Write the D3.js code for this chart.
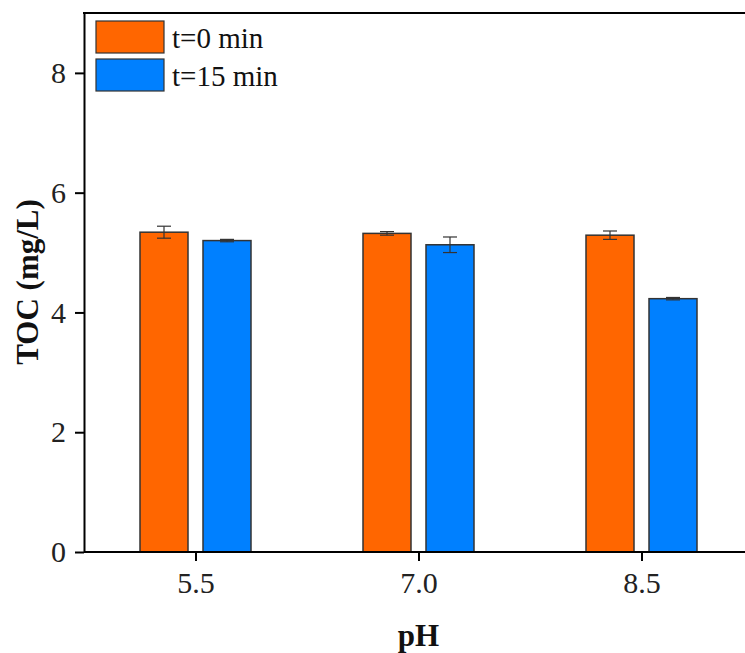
<!DOCTYPE html>
<html>
<head>
<meta charset="utf-8">
<script src="https://cdn.jsdelivr.net/npm/d3@7"></script>
<style>
  html, body { margin: 0; padding: 0; background: #fff; }
  svg { display: block; }
</style>
</head>
<body>
<svg id="chart" width="745" height="653"></svg>
<script>
// TOC measured at each pH, before and after 15 min treatment
const phLevels = ["5.5", "7.0", "8.5"];
const seriesNames = ["t=0 min", "t=15 min"];
const seriesColors = ["#FF6600", "#0080FF"];
const tocStart = [5.34, 5.32, 5.29];
const tocStartErr = [0.10, 0.03, 0.07];
const tocEnd = [5.20, 5.13, 4.23];
const tocEndErr = [0.02, 0.13, 0.02];
const yTicks = [0, 2, 4, 6, 8];

const FONT = "Liberation Serif";
const svg = d3.select("#chart");
const margin = { left: 84, top: 13, bottom: 552 };
const step = 223;

const x = d3.scalePoint()
  .domain(phLevels)
  .range([margin.left + step / 2, margin.left + step / 2 + step * (phLevels.length - 1)]);

const y = d3.scaleLinear().domain([0, 9]).range([margin.bottom, margin.top]);

const barW = 48;
const offsets = [-31.5, 31.5];
const values = [tocStart, tocEnd];
const errors = [tocStartErr, tocEndErr];

const rows = [];
seriesNames.forEach((s, si) => {
  phLevels.forEach((p, i) => {
    rows.push({ p, si, v: values[si][i], e: errors[si][i] });
  });
});

// bars
svg.append("g").selectAll("rect").data(rows).join("rect")
  .attr("x", d => x(d.p) + offsets[d.si] - barW / 2)
  .attr("y", d => y(d.v))
  .attr("width", barW)
  .attr("height", d => y(0) - y(d.v))
  .attr("fill", d => seriesColors[d.si])
  .attr("stroke", "#333")
  .attr("stroke-width", 1.5);

// error bars
const eg = svg.append("g").attr("stroke", "#333").attr("stroke-width", 1.2);
rows.forEach(d => {
  const cx = x(d.p) + offsets[d.si];
  const capW = 7;
  eg.append("line").attr("x1", cx).attr("x2", cx).attr("y1", y(d.v + d.e)).attr("y2", y(d.v - d.e));
  eg.append("line").attr("x1", cx - capW).attr("x2", cx + capW).attr("y1", y(d.v + d.e)).attr("y2", y(d.v + d.e));
  eg.append("line").attr("x1", cx - capW).attr("x2", cx + capW).attr("y1", y(d.v - d.e)).attr("y2", y(d.v - d.e));
});

// axes
const yAxis = d3.axisLeft(y).tickValues(yTicks).tickSize(9).tickPadding(9).tickSizeOuter(0).tickFormat(d3.format("d"));
const yg = svg.append("g").attr("transform", `translate(${margin.left},0)`).call(yAxis);
yg.select(".domain").attr("stroke", "#000").attr("stroke-width", 2);
yg.selectAll(".tick line").attr("stroke", "#000").attr("stroke-width", 2);
yg.selectAll(".tick text").style("font-family", FONT).style("font-size", "30px").attr("fill", "#222");

const xAxis = d3.axisBottom(x).tickSize(9).tickSizeOuter(0);
const xg = svg.append("g").attr("transform", `translate(0,${margin.bottom})`).call(xAxis);
xg.select(".domain").attr("d", `M${margin.left},0H745`).attr("stroke", "#000").attr("stroke-width", 2);
xg.selectAll(".tick line").attr("stroke", "#000").attr("stroke-width", 2);
xg.selectAll(".tick text").style("font-family", FONT).style("font-size", "30px").attr("fill", "#222")
  .attr("y", 41).attr("dy", null);

// top frame line
svg.append("line").attr("x1", margin.left - 1).attr("x2", 745)
  .attr("y1", margin.top).attr("y2", margin.top)
  .attr("stroke", "#000").attr("stroke-width", 2);

// axis titles
svg.append("text").attr("x", x("7.0")).attr("y", 646).attr("text-anchor", "middle")
  .style("font-family", FONT).style("font-size", "31px").style("font-weight", "bold").attr("fill", "#111").text("pH");
svg.append("text").attr("transform", `translate(38,282) rotate(-90)`).attr("text-anchor", "middle")
  .style("font-family", FONT).style("font-size", "31px").style("font-weight", "bold").attr("fill", "#111").text("TOC (mg/L)");

// legend
const lg = svg.append("g").attr("transform", "translate(96,21)");
seriesNames.forEach((s, i) => {
  lg.append("rect").attr("x", 0).attr("y", i * 38).attr("width", 68).attr("height", 32)
    .attr("fill", seriesColors[i]).attr("stroke", "#333").attr("stroke-width", 1.2);
  lg.append("text").attr("x", 76).attr("y", i * 38 + 27)
    .style("font-family", FONT).style("font-size", "29px").attr("fill", "#111").text(s);
});
</script>
</body>
</html>
